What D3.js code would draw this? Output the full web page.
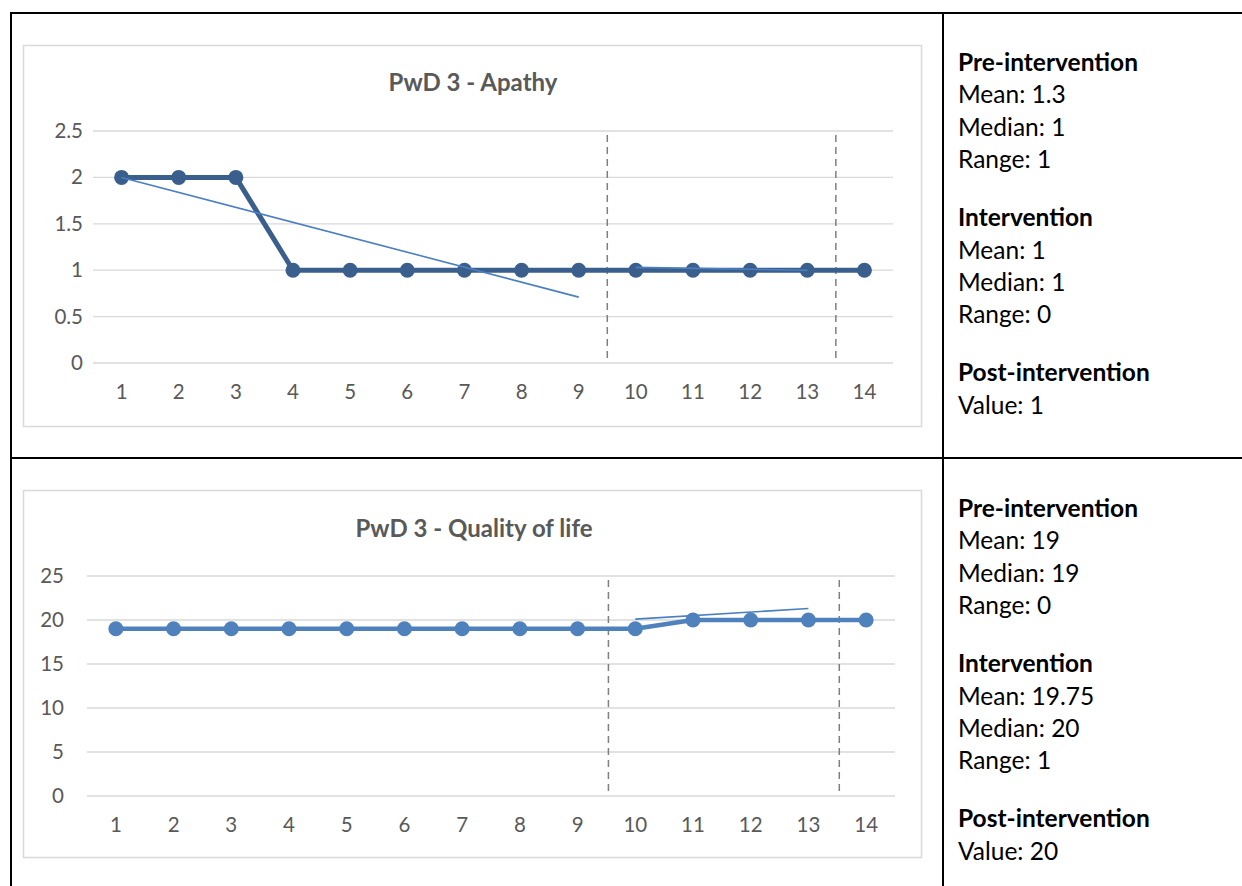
<!DOCTYPE html>
<html>
<head>
<meta charset="utf-8">
<script src="https://cdn.jsdelivr.net/npm/d3@7"></script>
<style>
  body { margin: 0; background: #fff; }
  text { font-family: Lato, "Open Sans", sans-serif; }
</style>
</head>
<body>
<script>
const width = 1242;
const height = 886;

// data
const sessions = [1, 2, 3, 4, 5, 6, 7, 8, 9, 10, 11, 12, 13, 14];
const apathy = [2, 2, 2, 1, 1, 1, 1, 1, 1, 1, 1, 1, 1, 1];
const qol = [19, 19, 19, 19, 19, 19, 19, 19, 19, 19, 20, 20, 20, 20];
const apathyTicks = [0, 0.5, 1, 1.5, 2, 2.5];
const qolTicks = [0, 5, 10, 15, 20, 25];
// trend lines [x1, y1, x2, y2]
const apathyTrends = [[1, 2.0, 9, 0.71], [10, 1.03, 13, 1.0]];
const qolTrends = [[10, 20.1, 13, 21.3]];
// phase change positions (between sessions)
const phaseBreaks = [9.5, 13.5];

const apathyStats = [
    ["Pre-intervention", true], ["Mean: 1.3"], ["Median: 1"], ["Range: 1"], null,
    ["Intervention", true], ["Mean: 1"], ["Median: 1"], ["Range: 0"], null,
    ["Post-intervention", true], ["Value: 1"]
];
const qolStats = [
    ["Pre-intervention", true], ["Mean: 19"], ["Median: 19"], ["Range: 0"], null,
    ["Intervention", true], ["Mean: 19.75"], ["Median: 20"], ["Range: 1"], null,
    ["Post-intervention", true], ["Value: 20"]
];

const svg = d3.select("body").append("svg")
    .attr("width", width)
    .attr("height", height);

function drawChart(cfg) {
    const g = svg.append("g");

    // chart frame
    g.append("rect")
        .attr("x", cfg.frame[0] + 0.5).attr("y", cfg.frame[1] + 0.5)
        .attr("width", cfg.frame[2]).attr("height", cfg.frame[3])
        .attr("fill", "#fff").attr("stroke", "#d9d9d9").attr("stroke-width", 1.5);

    const x = d3.scaleBand().domain(cfg.cats).range([cfg.left, cfg.right]);
    const xc = d => x(d) + x.bandwidth() / 2;
    const xv = v => {
        // continuous position for fractional sessions
        const s = (cfg.right - cfg.left) / cfg.cats.length;
        return cfg.left + (v - 0.5) * s;
    };
    const y = d3.scaleLinear().domain([0, d3.max(cfg.ticks)]).range([cfg.bottom, cfg.top]);

    // gridlines
    g.append("g").selectAll("line").data(cfg.ticks).join("line")
        .attr("x1", cfg.left).attr("x2", cfg.right)
        .attr("y1", d => y(d)).attr("y2", d => y(d))
        .attr("stroke", "#d9d9d9").attr("stroke-width", 1.3);

    // y axis labels
    const yAxis = d3.axisLeft(y).tickValues(cfg.ticks).tickSize(0).tickPadding(cfg.yPad)
        .tickFormat(d3.format("~g"));
    g.append("g").attr("transform", `translate(${cfg.left},0)`).call(yAxis)
        .attr("font-size", null).attr("font-family", null)
        .call(a => a.select(".domain").remove())
        .selectAll("text").attr("fill", "#595959").attr("font-size", 20.5);

    // x axis labels
    const xAxis = d3.axisBottom(x).tickSize(0).tickPadding(21);
    g.append("g").attr("transform", `translate(0,${cfg.bottom})`).call(xAxis)
        .attr("font-size", null).attr("font-family", null)
        .call(a => a.select(".domain").remove())
        .selectAll("text").attr("fill", "#595959").attr("font-size", 20.5);

    // title
    g.append("text")
        .attr("x", cfg.titleX).attr("y", cfg.titleY)
        .attr("text-anchor", "middle")
        .attr("font-size", 24).attr("font-weight", "bold").attr("fill", "#595959")
        .text(cfg.title);

    // phase change lines
    g.append("g").selectAll("line").data(phaseBreaks).join("line")
        .attr("x1", d => xv(d) + cfg.breakShift).attr("x2", d => xv(d) + cfg.breakShift)
        .attr("y1", cfg.top + 4).attr("y2", cfg.bottom)
        .attr("stroke", "#7f7f7f").attr("stroke-width", 1.5)
        .attr("stroke-dasharray", "7,5");

    // data line
    const line = d3.line().x((d, i) => xc(cfg.cats[i])).y(d => y(d));
    g.append("path").datum(cfg.values)
        .attr("d", line)
        .attr("fill", "none").attr("stroke", cfg.color)
        .attr("stroke-width", cfg.lineWidth).attr("stroke-linejoin", "round");

    g.append("g").selectAll("circle").data(cfg.values).join("circle")
        .attr("cx", (d, i) => xc(cfg.cats[i])).attr("cy", d => y(d))
        .attr("r", 7.5).attr("fill", cfg.color);

    // trend lines
    g.append("g").selectAll("line").data(cfg.trends).join("line")
        .attr("x1", d => xv(d[0])).attr("y1", d => y(d[1]))
        .attr("x2", d => xv(d[2])).attr("y2", d => y(d[3]))
        .attr("stroke", "#4a7fc1").attr("stroke-width", 1.6);
}

function drawStats(rows, x0, y0) {
    let yy = y0;
    const t = svg.append("g");
    rows.forEach(r => {
        if (r === null) { yy += 26; return; }
        t.append("text")
            .attr("x", x0).attr("y", yy)
            .attr("font-size", 24.5)
            .attr("font-weight", r[1] ? "bold" : "normal")
            .attr("fill", "#000")
            .text(r[0]);
        yy += 32.3;
    });
}

drawChart({
    frame: [23, 45, 898, 381],
    cats: sessions, values: apathy, ticks: apathyTicks, trends: apathyTrends,
    left: 93, right: 893, top: 131, bottom: 363, yPad: 10, breakShift: 0,
    title: "PwD 3 - Apathy", titleX: 473, titleY: 91,
    color: "#3b5f8d", lineWidth: 5
});

drawChart({
    frame: [23, 490, 898, 367],
    cats: qol.map((d, i) => sessions[i]), values: qol, ticks: qolTicks, trends: qolTrends,
    left: 87, right: 895, top: 576, bottom: 796, yPad: 23, breakShift: 2,
    title: "PwD 3 - Quality of life", titleX: 474, titleY: 537,
    color: "#4f81bd", lineWidth: 4.5
});

drawStats(apathyStats, 958, 71);
drawStats(qolStats, 958, 517);

// table borders
const borders = [
    [10, 13, width, 13], [10, 458, width, 458],
    [11, 12, 11, height], [943, 12, 943, height]
];
svg.append("g").selectAll("line").data(borders).join("line")
    .attr("x1", d => d[0]).attr("y1", d => d[1])
    .attr("x2", d => d[2]).attr("y2", d => d[3])
    .attr("stroke", "#000").attr("stroke-width", 2);
</script>
</body>
</html>
